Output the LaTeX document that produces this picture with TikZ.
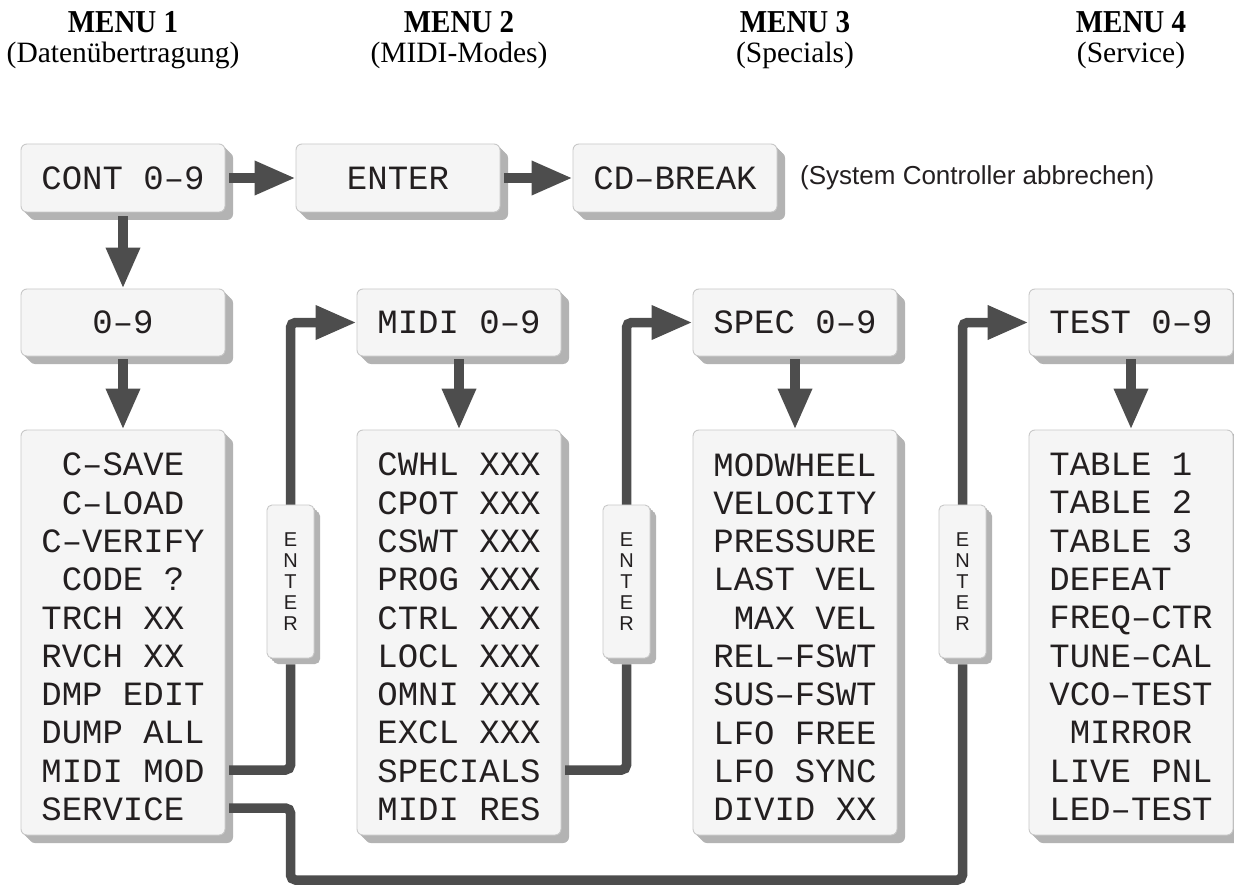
\documentclass[tikz,border=0pt]{standalone}
\usepackage{fontspec}
\setmainfont{Liberation Serif}
\newfontfamily\monof{Liberation Mono}
\newfontfamily\sansf{Liberation Sans}
\usetikzlibrary{arrows.meta,shadows}
\definecolor{boxfill}{HTML}{F5F5F5}
\definecolor{boxline}{HTML}{C8C8C8}
\definecolor{shadowc}{HTML}{B3B3B3}
\definecolor{linec}{HTML}{4D4D4D}
\definecolor{txt}{HTML}{231F20}
\begin{document}
\begin{tikzpicture}[x=1pt,y=-1pt,
  sh/.style={general shadow={fill=shadowc, shadow xshift=#1pt, shadow yshift=-#1pt}},
  boxbase/.style={draw=boxline, line width=0.9pt, fill=boxfill, rounded corners=6pt, inner sep=0pt, text=txt},
  box/.style={boxbase, sh=2, sh=4, sh=6, sh=8, minimum width=204pt, minimum height=68pt,
    font=\fontsize{34}{38.3}\selectfont\monof},
  bigbox/.style={box, minimum height=405pt},
  list/.style={align=left, inner sep=0pt, text=txt, font=\fontsize{34}{38.3}\selectfont\monof},
  enterbox/.style={boxbase, sh=2, sh=4, sh=6, rounded corners=5pt, minimum width=47pt, minimum height=153pt,
    align=center, font=\fontsize{20}{21}\selectfont\sansf},
  hdr/.style={anchor=base, inner sep=0pt, font=\fontsize{29}{32}\selectfont\bfseries},
  sub/.style={anchor=base, inner sep=0pt, font=\fontsize{29.5}{32}\selectfont},
  line/.style={draw=linec, line width=9.5pt, rounded corners=5pt},
  conn/.style={line, -{Triangle[length=41pt,width=32pt]}}]
\useasboundingbox (0,0) rectangle (1234,885);
\fill[white] (0,0) rectangle (1234,885);
% headers
\node[hdr] (h1) at (123,33) {\scalebox{1}[1.1]{MENU 1}};
\node[sub] (s1h) at (123,63) {(Datenübertragung)};
\node[hdr] (h2) at (459,33) {\scalebox{1}[1.1]{MENU 2}};
\node[sub] (s2h) at (459,63) {(MIDI-Modes)};
\node[hdr] (h3) at (795,33) {\scalebox{1}[1.1]{MENU 3}};
\node[sub] (s3h) at (795,63) {(Specials)};
\node[hdr] (h4) at (1131,33) {\scalebox{1}[1.1]{MENU 4}};
\node[sub] (s4h) at (1131,63) {(Service)};
% top row
\node[box] (cont) at (123,178) {CONT 0–9};
\node[box] (enter) at (398,178) {ENTER};
\node[box] (cdb) at (675,178) {CD–BREAK};
\node[anchor=west, inner sep=0pt, text=txt, font=\fontsize{26}{30}\selectfont\sansf] (note) at (800,178) {(System Controller abbrechen)};
% second row
\node[box, minimum height=67pt] (z) at (123,322.5) {0–9};
\node[box, minimum height=67pt] (midi) at (459,322.5) {MIDI 0–9};
\node[box, minimum height=67pt] (spec) at (795,322.5) {SPEC 0–9};
\node[box, minimum height=67pt] (test) at (1131,322.5) {TEST 0–9};
% list boxes
\node[bigbox] (b1) at (123,632.5) {};
\node[bigbox] (b2) at (459,632.5) {};
\node[bigbox] (b3) at (795,632.5) {};
\node[bigbox] (b4) at (1131,632.5) {};
\node[list] (l1) at (123,637) {\hphantom{X}C–SAVE\\\hphantom{X}C–LOAD\\C–VERIFY\\\hphantom{X}CODE ?\\TRCH XX\\RVCH XX\\DMP EDIT\\DUMP ALL\\MIDI MOD\\SERVICE};
\node[list] (l2) at (459,637) {CWHL XXX\\CPOT XXX\\CSWT XXX\\PROG XXX\\CTRL XXX\\LOCL XXX\\OMNI XXX\\EXCL XXX\\SPECIALS\\MIDI RES};
\node[list] (l3) at (795,637) {MODWHEEL\\VELOCITY\\PRESSURE\\LAST VEL\\\hphantom{X}MAX VEL\\REL–FSWT\\SUS–FSWT\\LFO FREE\\LFO SYNC\\DIVID XX};
\node[list] (l4) at (1131,637) {TABLE 1\hphantom{X}\\TABLE 2\\TABLE 3\\DEFEAT\\FREQ–CTR\\TUNE–CAL\\VCO–TEST\\\hphantom{X}MIRROR\\LIVE PNL\\LED–TEST};
% enter boxes
\node[enterbox] (e1) at (290.5,581.5) {E\\N\\T\\E\\R};
\node[enterbox] (e2) at (626.5,581.5) {E\\N\\T\\E\\R};
\node[enterbox] (e3) at (962.5,581.5) {E\\N\\T\\E\\R};
% connectors
\draw[conn] ([xshift=4pt]cont.east) -- (enter.west);
\draw[conn] ([xshift=4pt]enter.east) -- (cdb.west);
\draw[conn] ([yshift=-4pt]cont.south) -- (z.north);
\draw[conn] ([yshift=-3pt]z.south) -- (b1.north);
\draw[conn] ([yshift=-3pt]midi.south) -- (b2.north);
\draw[conn] ([yshift=-3pt]spec.south) -- (b3.north);
\draw[conn] ([yshift=-3pt]test.south) -- (b4.north);
\coordinate (m1) at (229,770);
\coordinate (m2) at (565,770);
\coordinate (sv) at (229,808);
\coordinate (bl) at (290.5,880);
\draw[line] (m1) -| ([yshift=-6pt]e1.south);
\draw[conn] (e1.north) |- (midi.west);
\draw[line] (m2) -| ([yshift=-6pt]e2.south);
\draw[conn] (e2.north) |- (spec.west);
\draw[line] (sv) -| (bl) -| ([yshift=-6pt]e3.south);
\draw[conn] (e3.north) |- (test.west);
\end{tikzpicture}
\end{document}
